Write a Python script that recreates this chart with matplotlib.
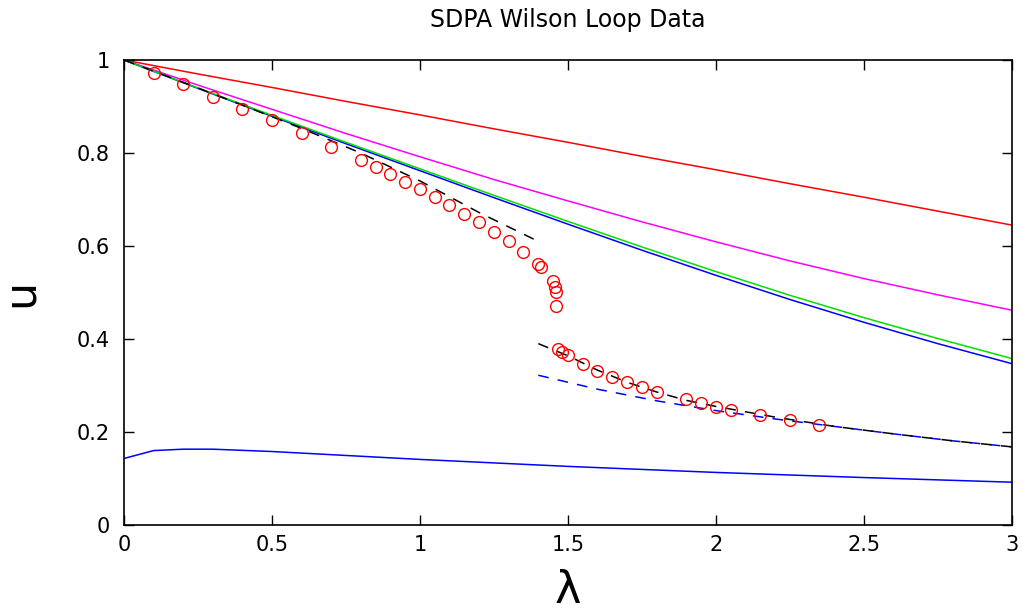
import numpy as np
import matplotlib.pyplot as plt
from matplotlib.ticker import FormatStrFormatter

# SDPA data points (red circles)
lam_pts = [0.1, 0.2, 0.3, 0.4, 0.5, 0.6, 0.7, 0.8, 0.85, 0.9, 0.95, 1.0, 1.05,
           1.1, 1.15, 1.2, 1.25, 1.3, 1.35, 1.4, 1.41, 1.45, 1.455, 1.46, 1.46,
           1.465, 1.48, 1.5, 1.55, 1.6, 1.65, 1.7, 1.75, 1.8, 1.9, 1.95, 2.0,
           2.05, 2.15, 2.25, 2.35]
u_pts = [0.973, 0.948, 0.921, 0.894, 0.870, 0.843, 0.813, 0.785, 0.769, 0.754,
         0.738, 0.722, 0.705, 0.688, 0.669, 0.652, 0.631, 0.611, 0.587, 0.561,
         0.555, 0.525, 0.512, 0.501, 0.471, 0.379, 0.372, 0.366, 0.346, 0.331,
         0.318, 0.307, 0.296, 0.287, 0.270, 0.262, 0.254, 0.248, 0.236, 0.225,
         0.215]

# bounds (solid lines)
lam_b = [0.0, 0.25, 0.5, 0.75, 1.0, 1.25, 1.5, 1.75, 2.0, 2.25, 2.5, 2.75, 3.0]
u_red = [1.0, 0.970, 0.941, 0.911, 0.882, 0.852, 0.823, 0.793, 0.764, 0.734, 0.705, 0.675, 0.645]
u_magenta = [1.0, 0.946, 0.894, 0.842, 0.792, 0.743, 0.697, 0.652, 0.609, 0.568, 0.530, 0.495, 0.462]
u_green = [1.0, 0.940, 0.881, 0.823, 0.766, 0.709, 0.653, 0.598, 0.545, 0.494, 0.446, 0.401, 0.358]
u_blue = [1.0, 0.939, 0.879, 0.820, 0.762, 0.704, 0.647, 0.591, 0.537, 0.485, 0.436, 0.390, 0.347]

lam_low = [0.0, 0.1, 0.2, 0.3, 0.5, 1.0, 1.5, 2.0, 2.5, 3.0]
u_low = [0.143, 0.160, 0.163, 0.163, 0.158, 0.141, 0.126, 0.113, 0.102, 0.092]

# weak / strong coupling curves (dashed)
lam_weak = [0.0, 0.2, 0.4, 0.6, 0.8, 1.0, 1.2, 1.4]
u_weak = [1.0, 0.952, 0.903, 0.853, 0.80, 0.74, 0.672, 0.61]
lam_strong = [1.4, 1.5, 1.6, 1.7, 1.8, 1.9, 2.0, 2.2, 2.4, 2.6, 2.8, 3.0]
u_strong = [0.39, 0.364, 0.333, 0.307, 0.286, 0.268, 0.255, 0.232, 0.212, 0.196, 0.181, 0.168]
lam_bd = [1.4, 1.6, 1.8, 2.0, 2.2, 2.4, 2.6, 2.8, 3.0]
u_bd = [0.322, 0.292, 0.267, 0.246, 0.228, 0.212, 0.196, 0.181, 0.168]

fig = plt.figure(figsize=(10.22, 6.13), dpi=100)
ax = fig.add_axes([0.1213, 0.1436, 0.8687, 0.7585])

lw = 1.1
ax.plot(lam_b, u_red, color='#ff0000', lw=lw)
ax.plot(lam_b, u_magenta, color='#ff00ff', lw=lw)
ax.plot(lam_b, u_blue, color='#0000ff', lw=lw)
ax.plot(lam_b, u_green, color='#00e000', lw=lw)
ax.plot(lam_low, u_low, color='#0000ff', lw=lw)
ax.plot(lam_bd, u_bd, color='#0000ff', lw=lw, dashes=(7, 6))
ax.plot(lam_weak, u_weak, color='black', lw=lw, dashes=(7, 6))
ax.plot(lam_strong, u_strong, color='black', lw=lw, dashes=(7, 6))
ax.plot(lam_pts, u_pts, 'o', mfc='none', mec='#ff0000', ms=8.5, mew=1.0)

ax.set_xlim(0, 3)
ax.set_ylim(0, 1)
ax.set_xticks([0, 0.5, 1, 1.5, 2, 2.5, 3])
ax.set_yticks([0, 0.2, 0.4, 0.6, 0.8, 1])
ax.xaxis.set_major_formatter(FormatStrFormatter('%g'))
ax.yaxis.set_major_formatter(FormatStrFormatter('%g'))
ax.tick_params(direction='in', top=True, right=True, length=7, width=1.0, labelsize=15)
ax.tick_params(axis='y', pad=10)
ax.tick_params(axis='x', pad=7)
for s in ax.spines.values():
    s.set_linewidth(1.2)

ax.set_title('SDPA Wilson Loop Data', fontsize=17, pad=24)
ax.set_xlabel('λ', fontsize=32, labelpad=10)
ax.set_ylabel('u', fontsize=32, labelpad=25)

fig.savefig('out.png', dpi=100)
